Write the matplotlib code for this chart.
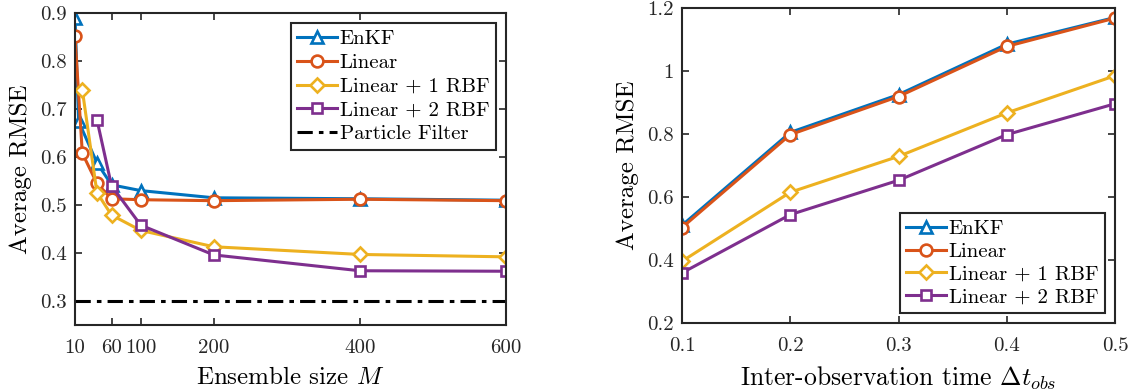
import numpy as np
import matplotlib.pyplot as plt

plt.rcParams['font.family'] = ['cmr10', 'DejaVu Serif']
plt.rcParams['mathtext.fontset'] = 'cm'
plt.rcParams['axes.unicode_minus'] = False

# matlab default line colours
c_enkf = '#0072BD'
c_lin = '#D95319'
c_rbf1 = '#EDB120'
c_rbf2 = '#7E2F8E'

# RMSE vs ensemble size
M_enkf = [10, 15, 40, 60, 100, 200, 400, 600]
rmse_enkf = [0.890, 0.674, 0.588, 0.542, 0.530, 0.515, 0.513, 0.510]
M_lin = [10, 20, 40, 60, 100, 200, 400, 600]
rmse_lin = [0.852, 0.608, 0.545, 0.513, 0.511, 0.509, 0.512, 0.509]
M_rbf1 = [20, 40, 60, 100, 200, 400, 600]
rmse_rbf1 = [0.740, 0.526, 0.479, 0.447, 0.413, 0.397, 0.392]
M_rbf2 = [40, 60, 100, 200, 400, 600]
rmse_rbf2 = [0.678, 0.540, 0.458, 0.396, 0.363, 0.362]
pf_rmse = 0.30
M_ticks = [10, 60, 100, 200, 400, 600]

# RMSE vs inter-observation time
dt = [0.1, 0.2, 0.3, 0.4, 0.5]
dt_enkf = [0.510, 0.805, 0.925, 1.085, 1.170]
dt_lin = [0.503, 0.798, 0.919, 1.078, 1.168]
dt_rbf1 = [0.396, 0.615, 0.729, 0.867, 0.985]
dt_rbf2 = [0.359, 0.544, 0.653, 0.798, 0.896]

W, H = 1135, 390
fig = plt.figure(figsize=(W / 100, H / 100), dpi=100)
ax1 = fig.add_axes([75 / W, (H - 325) / H, 431 / W, 312 / H])
ax2 = fig.add_axes([682 / W, (H - 323) / H, 433 / W, 315 / H])

lw = 2.2
kw = dict(lw=lw, mfc='white', mew=1.9)

ax1.plot(M_enkf, rmse_enkf, '-^', color=c_enkf, label='EnKF', ms=8.5, **kw)
ax1.plot(M_lin, rmse_lin, '-o', color=c_lin, label='Linear', ms=8.5, **kw)
ax1.plot(M_rbf1, rmse_rbf1, '-D', color=c_rbf1, label='Linear + 1 RBF', ms=7, **kw)
ax1.plot(M_rbf2, rmse_rbf2, '-s', color=c_rbf2, label='Linear + 2 RBF', ms=7.5, **kw)
ax1.axhline(pf_rmse, color='black', lw=lw, ls=(0, (5, 2, 1.5, 2)), label='Particle Filter')
ax1.set_xlim(10, 600)
ax1.set_ylim(0.25, 0.9)
ax1.set_xticks(M_ticks)
ax1.set_xticklabels([str(m) for m in M_ticks])
ax1.set_yticks(np.arange(0.3, 0.91, 0.1))
ax1.set_yticklabels(['0.3', '0.4', '0.5', '0.6', '0.7', '0.8', '0.9'])
ax1.set_xlabel('Ensemble size $M$', fontsize=18, labelpad=7)
ax1.set_ylabel('Average RMSE', fontsize=18, labelpad=6)
leg1 = ax1.legend(loc='upper right', fontsize=15, handlelength=1.9, handletextpad=0.15,
                  borderpad=0.3, labelspacing=0.25, fancybox=False, borderaxespad=0.5)

ax2.plot(dt, dt_enkf, '-^', color=c_enkf, label='EnKF', ms=8.5, **kw)
ax2.plot(dt, dt_lin, '-o', color=c_lin, label='Linear', ms=8.5, **kw)
ax2.plot(dt, dt_rbf1, '-D', color=c_rbf1, label='Linear + 1 RBF', ms=7, **kw)
ax2.plot(dt, dt_rbf2, '-s', color=c_rbf2, label='Linear + 2 RBF', ms=7.5, **kw)
ax2.set_xlim(0.1, 0.5)
ax2.set_ylim(0.2, 1.2)
ax2.set_xticks(dt)
ax2.set_xticklabels(['0.1', '0.2', '0.3', '0.4', '0.5'])
ax2.set_yticks([0.2, 0.4, 0.6, 0.8, 1.0, 1.2])
ax2.set_yticklabels(['0.2', '0.4', '0.6', '0.8', '1', '1.2'])
ax2.set_xlabel(r'Inter-observation time $\Delta t_{obs}$', fontsize=18.5, labelpad=7)
ax2.set_ylabel('Average RMSE', fontsize=18, labelpad=6)
leg2 = ax2.legend(loc='lower right', fontsize=15, handlelength=1.9, handletextpad=0.15,
                  borderpad=0.3, labelspacing=0.2, fancybox=False, borderaxespad=0.5)

for ax, leg in [(ax1, leg1), (ax2, leg2)]:
    for s in ax.spines.values():
        s.set_linewidth(1.5)
        s.set_color('#262626')
    ax.tick_params(direction='in', top=True, right=True, length=5, width=1.2,
                   labelsize=15, colors='#262626')
    ax.tick_params(axis='x', pad=10)
    ax.tick_params(axis='y', pad=6)
    fr = leg.get_frame()
    fr.set_edgecolor('#262626')
    fr.set_linewidth(1.5)
    fr.set_alpha(1)

fig.savefig('out.png', dpi=100)
